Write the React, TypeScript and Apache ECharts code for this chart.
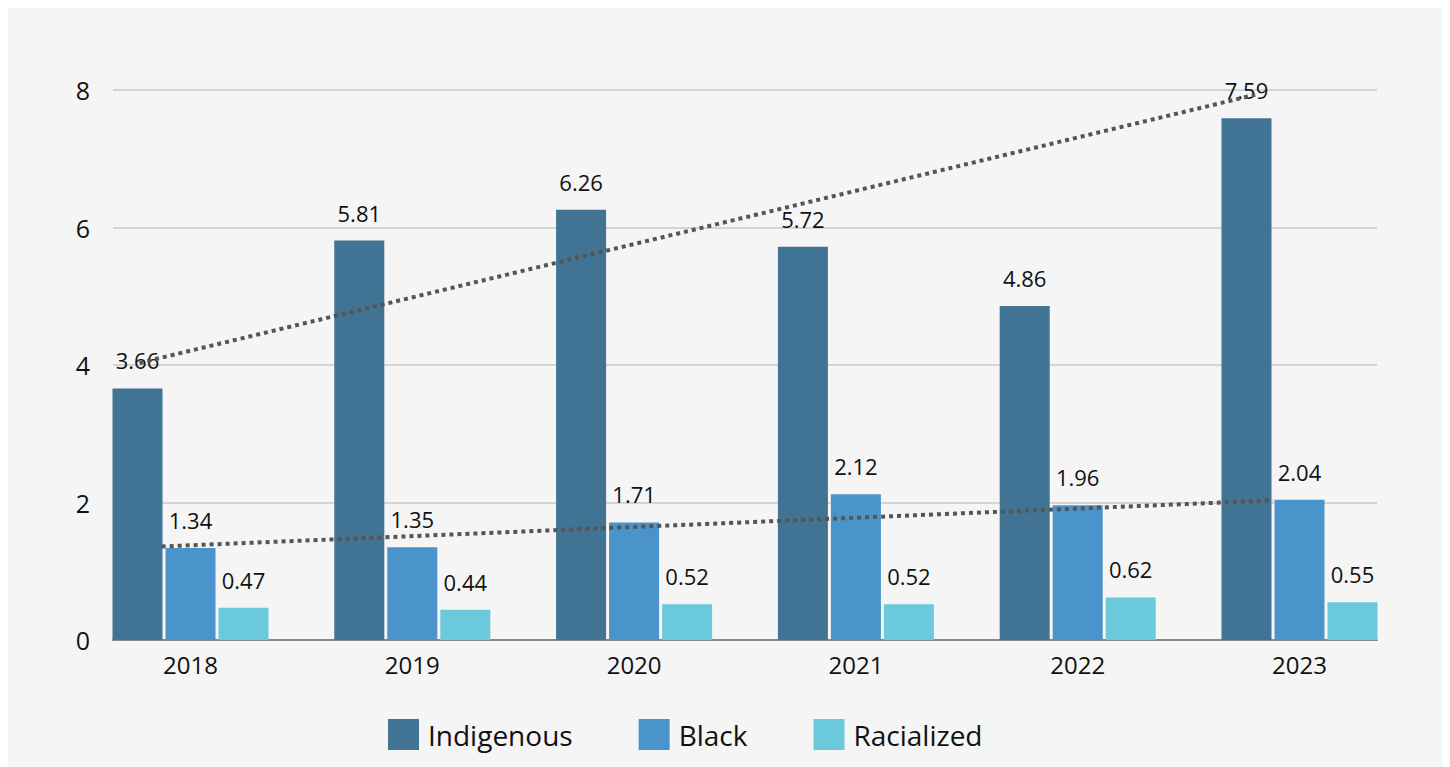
import React, { useEffect, useRef } from "react";
import * as echarts from "echarts";

const years = ["2018", "2019", "2020", "2021", "2022", "2023"];
const indigenous = [3.66, 5.81, 6.26, 5.72, 4.86, 7.59];
const black = [1.34, 1.35, 1.71, 2.12, 1.96, 2.04];
const racialized = [0.47, 0.44, 0.52, 0.52, 0.62, 0.55];
// trend line endpoints: [category position, value]
const indigenousTrend = [[-0.23, 4.03], [4.8, 7.93]];
const blackTrend = [[-0.13, 1.36], [4.88, 2.03]];

const FONT = "Open Sans";
const TEXT = "#111111";

export default function App() {
  const ref = useRef<HTMLDivElement>(null);
  useEffect(() => {
    const chart = echarts.init(ref.current!, null, { renderer: "svg" });
    const label = {
      show: true,
      position: "top",
      distance: 17,
      fontSize: 22,
      fontFamily: FONT,
      color: TEXT,
    };
    chart.setOption({
      animation: false,
      backgroundColor: "#f5f5f5",
      textStyle: { fontFamily: FONT },
      grid: [
        { left: 71.6, right: 34.6, top: 82, bottom: 127 },
        { left: 105, right: 68, top: 82, bottom: 127 },
      ],
      legend: {
        bottom: 12,
        left: 375,
        itemWidth: 31,
        itemHeight: 31,
        itemGap: 66,
        icon: "rect",
        data: ["Indigenous", "Black", "Racialized"],
        textStyle: { fontSize: 28, fontFamily: FONT, color: TEXT, padding: [0, 0, 0, 4] },
      },
      xAxis: [
        {
          type: "category",
          gridIndex: 0,
          data: years,
          axisLine: { show: false },
          axisTick: { show: false },
          axisLabel: { fontSize: 24, color: TEXT, fontFamily: FONT, margin: 12 },
        },
        {
          type: "category",
          gridIndex: 1,
          data: years,
          axisLine: { show: true, lineStyle: { color: "#888888", width: 2 } },
          axisTick: { show: false },
          axisLabel: { show: false },
        },
        {
          type: "value",
          gridIndex: 0,
          min: -0.5,
          max: 5.5,
          show: false,
        },
      ],
      yAxis: [
        { type: "value", gridIndex: 0, min: 0, max: 8, interval: 2, show: false },
        {
          type: "value",
          gridIndex: 1,
          min: 0,
          max: 8,
          interval: 2,
          axisLine: { show: false },
          axisTick: { show: false },
          axisLabel: { fontSize: 25, color: TEXT, fontFamily: FONT, margin: 23 },
          splitLine: { lineStyle: { color: "#c8c8c8", width: 1.5 } },
        },
      ],
      series: [
        {
          name: "Indigenous",
          type: "bar",
          xAxisIndex: 0,
          yAxisIndex: 0,
          data: indigenous,
          barWidth: 50,
          barGap: "6%",
          itemStyle: { color: "#417394" },
          label,
        },
        {
          name: "Black",
          type: "bar",
          xAxisIndex: 0,
          yAxisIndex: 0,
          data: black,
          barWidth: 50,
          barGap: "6%",
          itemStyle: { color: "#4a93cb" },
          label,
        },
        {
          name: "Racialized",
          type: "bar",
          xAxisIndex: 0,
          yAxisIndex: 0,
          data: racialized,
          barWidth: 50,
          barGap: "6%",
          itemStyle: { color: "#6ac9da" },
          label,
        },
        {
          name: "IndigenousTrend",
          type: "line",
          xAxisIndex: 2,
          yAxisIndex: 0,
          data: indigenousTrend,
          symbol: "none",
          z: 5,
          lineStyle: { color: "#555555", width: 4, type: [4, 4] },
        },
        {
          name: "BlackTrend",
          type: "line",
          xAxisIndex: 2,
          yAxisIndex: 0,
          data: blackTrend,
          symbol: "none",
          z: 5,
          lineStyle: { color: "#555555", width: 4, type: [4, 4] },
        },
      ],
    });
    return () => chart.dispose();
  }, []);
  return <div ref={ref} style={{ width: 1437, height: 759 }} />;
}
